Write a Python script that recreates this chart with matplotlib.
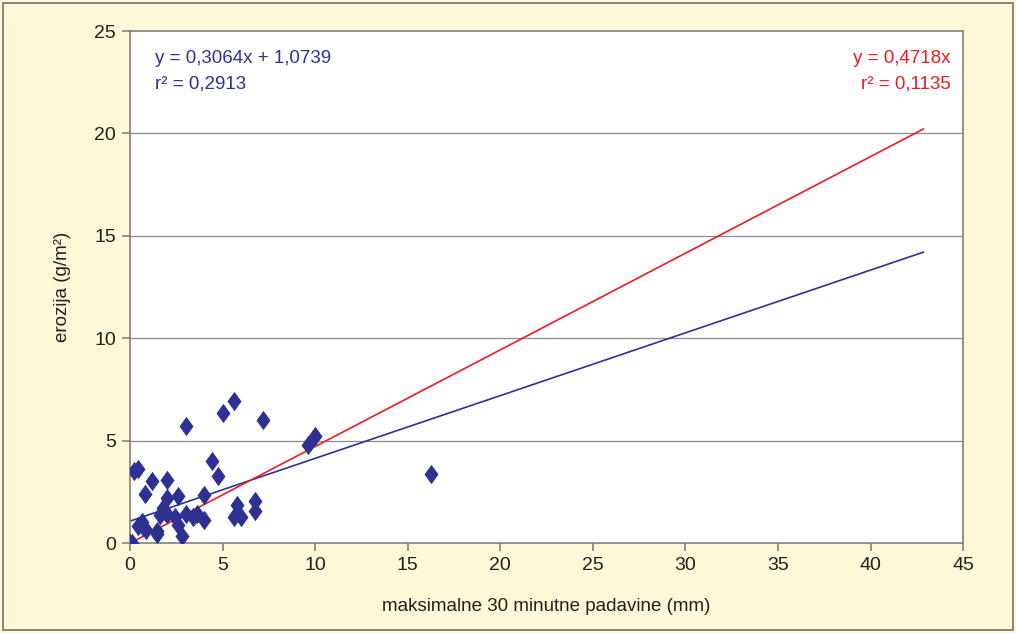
import matplotlib.pyplot as plt
import matplotlib.patches as mpatches
import numpy as np

plt.rcParams['font.family'] = ['Liberation Sans', 'DejaVu Sans']

# padavine (mm) / erozija (g/m2)
padavine = np.array([0.0, 0.1, 0.2, 0.43, 1.18, 0.82, 0.43, 0.63, 0.72, 0.84,
                     1.43, 1.47, 1.61, 1.79, 2.0, 2.0, 2.0, 1.88, 2.42, 2.6,
                     2.6, 2.83, 3.01, 3.01, 3.4, 3.62, 4.01, 4.01, 4.43, 4.75,
                     5.02, 5.59, 5.77, 5.59, 6.0, 6.76, 6.76, 7.17, 9.59, 10.0,
                     16.24])
erozija = np.array([0.0, 0.0, 3.52, 3.63, 3.01, 2.41, 0.83, 1.03, 0.78, 0.65,
                    0.59, 0.46, 1.35, 1.73, 3.06, 2.21, 1.43, 1.51, 1.27, 2.28,
                    0.86, 0.37, 5.72, 1.43, 1.27, 1.43, 2.33, 1.14, 4.01, 3.27,
                    6.37, 6.94, 1.84, 1.27, 1.27, 2.05, 1.55, 5.99, 4.80, 5.21,
                    3.37])

# trend lines
k_lin, n_lin = 0.3064, 1.0739
k_0 = 0.4718
x_end = 42.85

blue = '#2E3192'
red = '#ED1C24'
grid_col = '#8A8A8A'
txt_col = '#231F20'

fig = plt.figure(figsize=(10.16, 6.33), dpi=100, facecolor='#FFF8D7')
fig.patches.append(mpatches.Rectangle((0.003, 0.004), 0.994, 0.991, transform=fig.transFigure,
                                      fill=False, edgecolor='#707070', linewidth=1.2))
ax = fig.add_axes([0.128, 0.142, 0.82, 0.809])
ax.set_facecolor('white')

xs = np.array([0, x_end])
ax.plot(xs, k_lin * xs + n_lin, color=blue, linewidth=1.2, zorder=2)
ax.plot(xs, k_0 * xs, color=red, linewidth=1.2, zorder=3)

diamond = [(-0.72, 0), (0, 1), (0.72, 0), (0, -1), (-0.72, 0)]
ax.plot(padavine, erozija, linestyle='none', marker=diamond, markersize=14,
        color=blue, markeredgewidth=0, zorder=4)

ax.set_xlim(0, 45)
ax.set_ylim(0, 25)
ax.set_xticks(range(0, 46, 5))
ax.set_yticks(range(0, 26, 5))
for yv in range(5, 25, 5):
    ax.axhline(yv, color=grid_col, linewidth=0.9, zorder=1)

for s in ax.spines.values():
    s.set_color('#808080')
    s.set_linewidth(1.2)
ax.tick_params(direction='out', length=6, width=1.2, color='#808080',
               labelsize=14, labelcolor=txt_col, pad=4)

ax.set_xlabel('maksimalne 30 minutne padavine (mm)', fontsize=13.5, color=txt_col, labelpad=17)
ax.set_ylabel('erozija (g/m²)', fontsize=13.5, color=txt_col, labelpad=17)

ax.text(0.03, 0.947, 'y = 0,3064x + 1,0739', transform=ax.transAxes,
        color=blue, fontsize=13.5, va='center', ha='left')
ax.text(0.03, 0.896, 'r² = 0,2913', transform=ax.transAxes,
        color=blue, fontsize=13.5, va='center', ha='left')
ax.text(0.985, 0.947, 'y = 0,4718x', transform=ax.transAxes,
        color=red, fontsize=13.5, va='center', ha='right')
ax.text(0.985, 0.896, 'r² = 0,1135', transform=ax.transAxes,
        color=red, fontsize=13.5, va='center', ha='right')

fig.savefig('out.png', dpi=100, facecolor=fig.get_facecolor())
